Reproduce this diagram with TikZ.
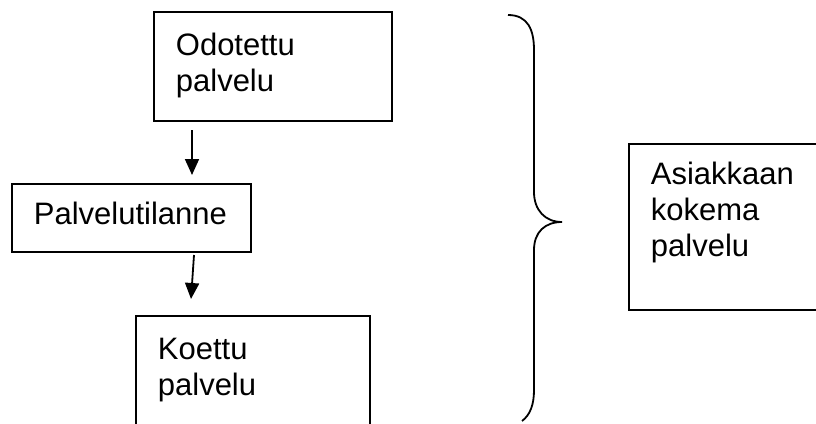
\documentclass[tikz,border=0pt]{standalone}
\usepackage{fontspec}
\setmainfont{Liberation Sans}
\usetikzlibrary{arrows.meta}
\begin{document}
\begin{tikzpicture}[x=1pt,y=-1pt,
  line width=1.8pt,
  box/.style={draw,rectangle,inner sep=0pt,anchor=north west},
  txt/.style={inner sep=0pt,anchor=base west,align=left,
    font=\fontsize{31}{36}\selectfont},
  flow/.style={-{Triangle[length=16pt,width=14pt]}}]
\useasboundingbox (0,0) rectangle (816,423);
% boxes of the flow
\node[box,minimum width=238pt,minimum height=109pt] (odot) at (153,11) {};
\node[box,minimum width=239pt,minimum height=68pt] (tilan) at (11,183) {};
\node[box,minimum width=234pt,minimum height=140pt] (koet) at (135,315) {};
\node[box,minimum width=220pt,minimum height=166pt] (asiak) at (628,143) {};
% texts (placed by the baseline of their last line)
\node[txt] (todot) at (175,91) {Odotettu\\palvelu};
\node[txt] (ttilan) at (33,224) {Palvelutilanne};
\node[txt] (tkoet) at (157,395) {Koettu\\palvelu};
\node[txt] (tasiak) at (650,256) {Asiakkaan\\kokema\\palvelu};
% arrows between the steps
\coordinate (a1s) at (192,130);
\coordinate (a1e) at (192,175);
\coordinate (a2s) at (194,255);
\coordinate (a2e) at (191,299);
\draw[flow] (a1s) -- (a1e);
\draw[flow] (a2s) -- (a2e);
% curly brace
\draw (508,15) .. controls (528,15) and (534,30) .. (534,50) -- (534,192)
  .. controls (534,210) and (545,222) .. (562,222)
  .. controls (545,222) and (534,232) .. (534,250) -- (534,390)
  .. controls (534,405) and (530,415) .. (522,421);
\end{tikzpicture}
\end{document}
